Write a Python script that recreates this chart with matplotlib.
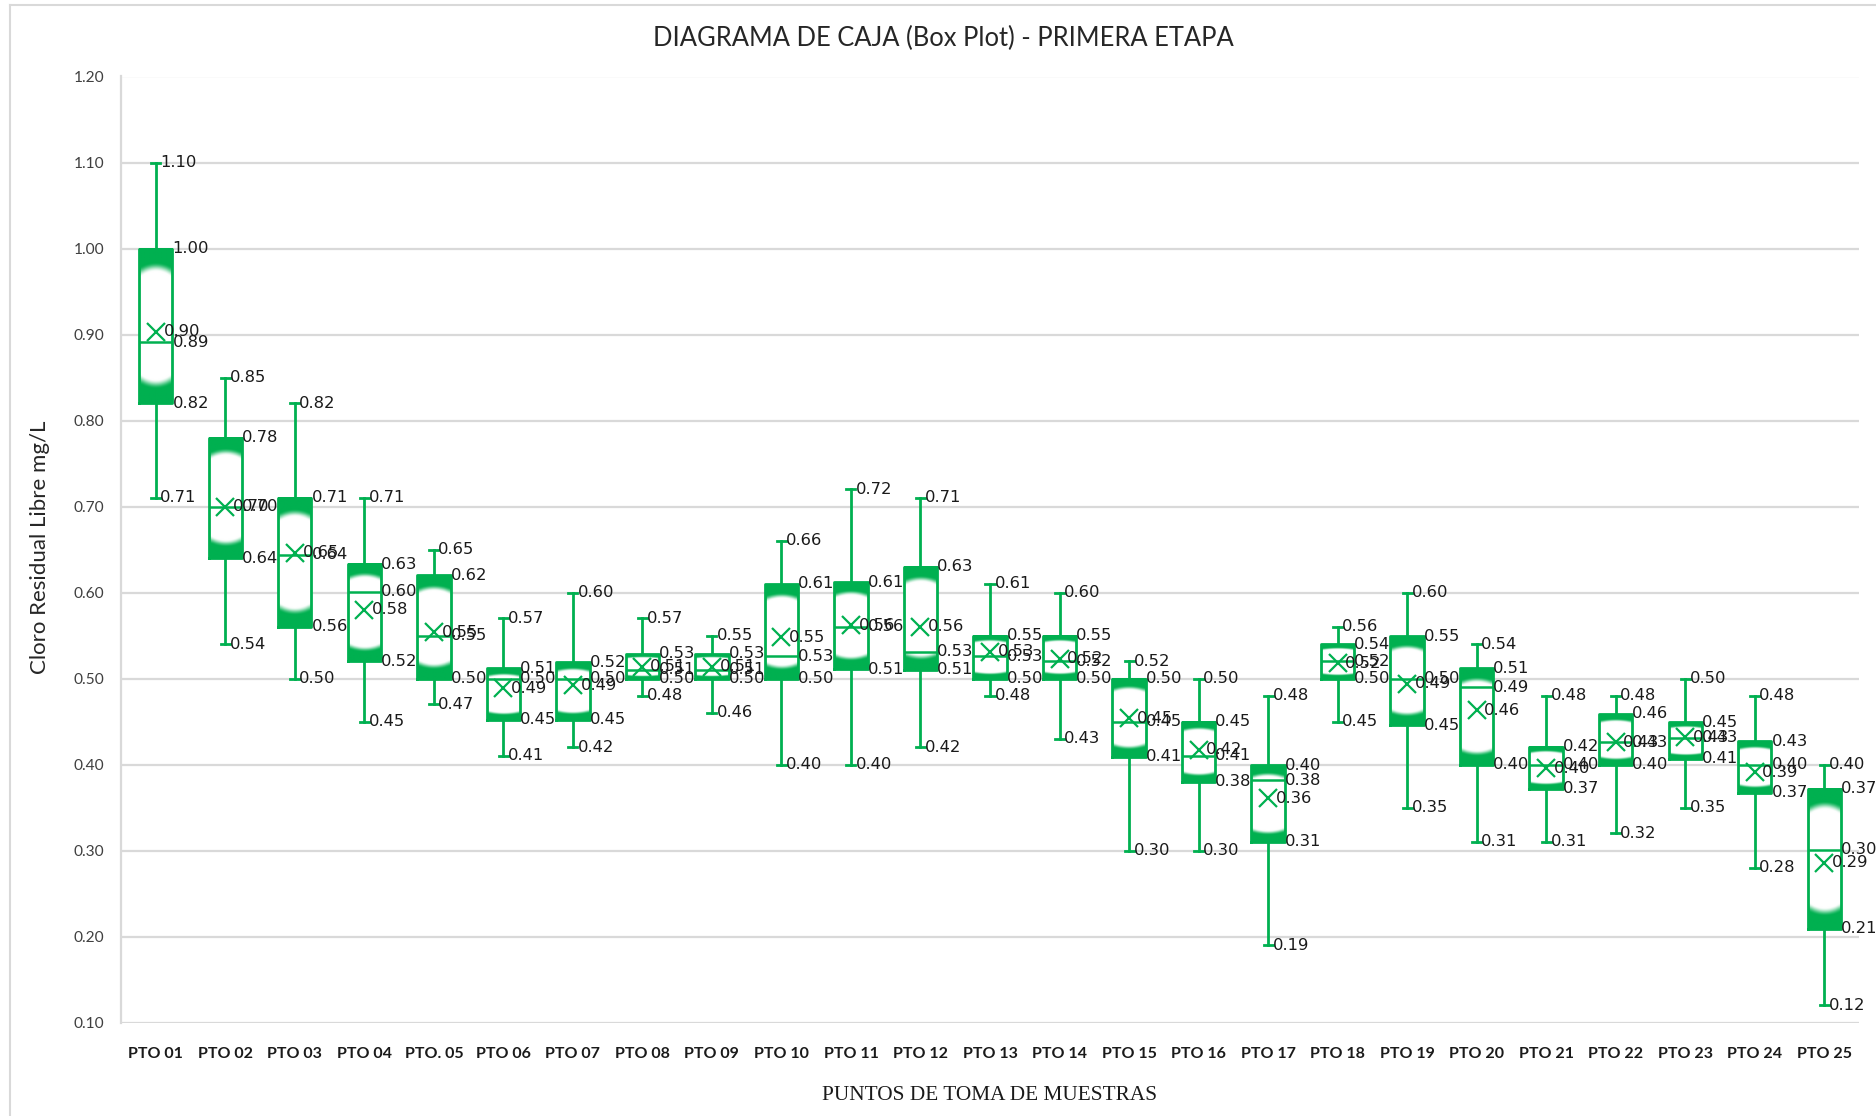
import numpy as np
import matplotlib
matplotlib.use("Agg")
import matplotlib.pyplot as plt
from matplotlib.lines import Line2D

# datos (mg/L)
categorias = ['PTO 01', 'PTO 02', 'PTO 03', 'PTO 04', 'PTO. 05', 'PTO 06', 'PTO 07',
              'PTO 08', 'PTO 09', 'PTO 10', 'PTO 11', 'PTO 12', 'PTO 13', 'PTO 14',
              'PTO 15', 'PTO 16', 'PTO 17', 'PTO 18', 'PTO 19', 'PTO 20', 'PTO 21',
              'PTO 22', 'PTO 23', 'PTO 24', 'PTO 25']
maximo = [1.10, 0.85, 0.82, 0.71, 0.65, 0.57, 0.60, 0.57, 0.55, 0.66, 0.72, 0.71, 0.61,
          0.60, 0.52, 0.50, 0.48, 0.56, 0.60, 0.54, 0.48, 0.48, 0.50, 0.48, 0.40]
q3 = [1.00, 0.78, 0.71, 0.633, 0.62, 0.512, 0.519, 0.529, 0.529, 0.61, 0.612, 0.63, 0.55,
      0.55, 0.50, 0.45, 0.399, 0.54, 0.549, 0.512, 0.421, 0.459, 0.449, 0.427, 0.372]
mediana = [0.891, 0.70, 0.644, 0.601, 0.55, 0.50, 0.50, 0.51, 0.51, 0.526, 0.56, 0.531, 0.526,
           0.52, 0.45, 0.41, 0.382, 0.52, 0.50, 0.49, 0.40, 0.426, 0.431, 0.40, 0.301]
media = [0.903, 0.70, 0.646, 0.58, 0.554, 0.489, 0.492, 0.514, 0.514, 0.548, 0.562, 0.56, 0.531,
         0.523, 0.454, 0.417, 0.361, 0.518, 0.494, 0.463, 0.396, 0.426, 0.432, 0.391, 0.286]
q1 = [0.82, 0.64, 0.56, 0.52, 0.50, 0.452, 0.452, 0.50, 0.50, 0.50, 0.511, 0.51, 0.50,
      0.50, 0.409, 0.38, 0.31, 0.50, 0.446, 0.40, 0.372, 0.40, 0.407, 0.367, 0.209]
minimo = [0.71, 0.54, 0.50, 0.45, 0.47, 0.41, 0.42, 0.48, 0.46, 0.40, 0.40, 0.42, 0.48,
          0.43, 0.30, 0.30, 0.19, 0.45, 0.35, 0.31, 0.31, 0.32, 0.35, 0.28, 0.12]

VERDE = '#00B050'
GRIS = '#D9D9D9'
ANCHO = 0.48


def relleno_degradado(nx=40, ny=160):
    # verde en los bordes superior/inferior, blanco redondeado al centro
    v = np.linspace(-1, 1, nx)
    u = np.linspace(0, 1, ny)
    V, U = np.meshgrid(v, u)
    d = np.minimum(U, 1 - U)
    solido = 0.09 + 0.03 * V ** 2
    blanco = 0.15 + 0.045 * V ** 2
    g = np.clip((blanco - d) / (blanco - solido), 0, 1)
    g = g * g * (3 - 2 * g)
    verde = np.array([0, 176, 80]) / 255
    return 1 - g[..., None] * (1 - verde)


fig = plt.figure(figsize=(18.76, 11.16), dpi=100)
ax = fig.add_axes([121 / 1876, 1 - 1022.6 / 1116, (1859 - 121) / 1876, (1022.6 - 76.5) / 1116])

pos = np.arange(1, len(categorias) + 1)
stats = []
for i in range(len(categorias)):
    stats.append({'label': categorias[i], 'whislo': minimo[i], 'q1': q1[i], 'med': mediana[i],
                  'q3': q3[i], 'whishi': maximo[i], 'mean': media[i], 'fliers': []})

img = relleno_degradado()
for i, x in enumerate(pos):
    ax.imshow(img, extent=(x - ANCHO / 2, x + ANCHO / 2, q1[i], q3[i]), aspect='auto',
              origin='lower', interpolation='bilinear', zorder=2)

ax.bxp(stats, positions=pos, widths=ANCHO, showmeans=True, showfliers=False,
       capwidths=0.13, manage_ticks=False, zorder=3,
       boxprops=dict(color=VERDE, linewidth=2),
       whiskerprops=dict(color=VERDE, linewidth=2),
       capprops=dict(color=VERDE, linewidth=2),
       medianprops=dict(color=VERDE, linewidth=1.8),
       meanprops=dict(marker='x', markeredgecolor=VERDE, markersize=13, markeredgewidth=1.6))

# etiquetas de datos
etq = dict(fontsize=11.8, color='#1a1a1a', va='center', ha='left', zorder=4, family='DejaVu Sans')
for i, x in enumerate(pos):
    ax.text(x + 0.065, maximo[i], f"{maximo[i]:.2f}", **etq)
    ax.text(x + 0.065, minimo[i], f"{minimo[i]:.2f}", **etq)
    ax.text(x + ANCHO / 2, q3[i], f"{q3[i]:.2f}", **etq)
    ax.text(x + ANCHO / 2, q1[i], f"{q1[i]:.2f}", **etq)
    ax.text(x + ANCHO / 2, mediana[i], f"{mediana[i]:.2f}", **etq)
    ax.text(x + 0.11, media[i], f"{media[i]:.2f}", **etq)

ax.set_xlim(0.5, len(categorias) + 0.5)
ax.set_ylim(0.10, 1.20)
ax.set_yticks(np.arange(0.10, 1.21, 0.10))
ax.set_yticklabels([f"{t:.2f}" for t in np.arange(0.10, 1.21, 0.10)])
ax.set_xticks(pos)
ax.set_xticklabels(categorias, fontweight='bold')
ax.tick_params(axis='both', length=0)
ax.tick_params(axis='y', pad=12, labelsize=11.2, labelcolor='#404040')
ax.tick_params(axis='x', pad=17.5, labelsize=11.5, labelcolor='#1a1a1a')
for lab in ax.get_xticklabels() + ax.get_yticklabels():
    lab.set_family('Lato')

ax.grid(axis='y', color=GRIS, linewidth=1.6)
ax.set_axisbelow(True)
for s in ['top', 'right', 'bottom']:
    ax.spines[s].set_visible(False)
ax.spines['left'].set_color(GRIS)
ax.spines['left'].set_linewidth(1.6)

fig.text(943 / 1876, 1 - 38 / 1116, 'DIAGRAMA DE CAJA (Box Plot) - PRIMERA ETAPA',
         ha='center', va='center', fontsize=18.4, family='Lato', color='#262626')
fig.text(40 / 1876, 1 - 547 / 1116, 'Cloro Residual Libre mg/L', rotation=90,
         ha='center', va='center', fontsize=16, family='Lato', color='#262626')
fig.text(990 / 1876, 1 - 1095 / 1116, 'PUNTOS DE TOMA DE MUESTRAS',
         ha='center', va='center', fontsize=15.3, family='Liberation Serif', color='#1a1a1a')

# borde del area del grafico
fig.add_artist(Line2D([9.5 / 1876, 9.5 / 1876], [0, 1 - 4.5 / 1116], transform=fig.transFigure,
                      color=GRIS, linewidth=1.5))
fig.add_artist(Line2D([9.5 / 1876, 1], [1 - 4.5 / 1116, 1 - 4.5 / 1116], transform=fig.transFigure,
                      color=GRIS, linewidth=1.5))

fig.savefig('out.png', dpi=100, facecolor='white')
